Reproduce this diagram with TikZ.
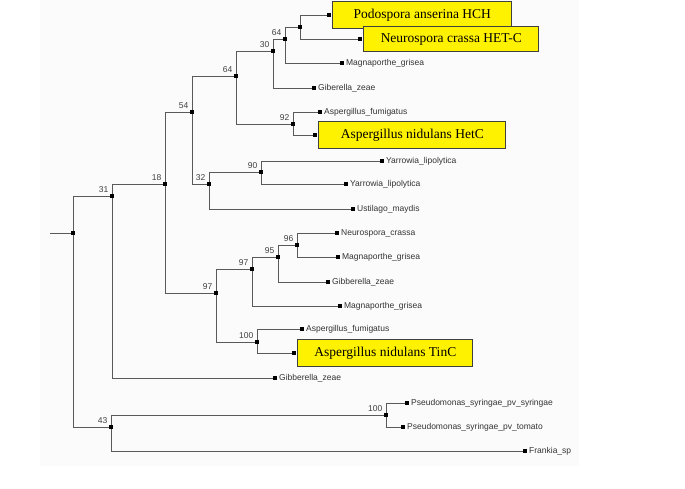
\documentclass[tikz,border=0pt]{standalone}
\usepackage{fontspec}
\setmainfont{Liberation Serif}
\newfontfamily\arialf{Liberation Sans}
\usetikzlibrary{positioning}

\tikzset{
  nd/.style={rectangle,fill=black,minimum size=4.5pt,inner sep=0pt},
  br/.style={draw=black!65,line width=0.7pt},
  bs/.style={font=\arialf\fontsize{8.5}{9}\selectfont,text=black!75,inner sep=1pt,label distance=0pt},
  lt/.style={font=\arialf\fontsize{8.5}{9}\selectfont,text=black!80,inner sep=1.5pt,label distance=0pt},
  hl/.style={rectangle,draw=black!75,line width=0.8pt,fill=yellow,inner xsep=4pt,minimum height=27pt,font=\fontsize{13.5}{15}\selectfont},
}

\begin{document}
\begin{tikzpicture}[x=1pt,y=-1pt]
      \useasboundingbox (0,0) rectangle (685,489);
      \fill[black!1.5] (40,0) rectangle (579,466);

      % inner nodes
      \node[nd] (root) at (73,233) {};
      \node[nd,label={[bs]above left:31}] (n31) at (112,196) {};
      \node[nd,label={[bs]above left:43}] (n43) at (111,427) {};
      \node[nd,label={[bs]above left:18}] (n18) at (165,184) {};
      \node[nd,label={[bs]above left:54}] (n54) at (192,112) {};
      \node[nd,label={[bs]above left:97}] (n97) at (216,293) {};
      \node[nd,label={[bs]above left:64}] (n64) at (236,76) {};
      \node[nd,label={[bs]above left:32}] (n32) at (209,184) {};
      \node[nd,label={[bs]above left:30}] (n30) at (273,51) {};
      \node[nd,label={[bs]above left:92}] (n92) at (293,124) {};
      \node[nd,label={[bs]above left:64}] (n64b) at (285,39) {};
      \node[nd] (nhc) at (300,27) {};
      \node[nd,label={[bs]above left:90}] (n90) at (261,172) {};
      \node[nd,label={[bs]above left:97}] (n97b) at (252,269) {};
      \node[nd,label={[bs]above left:95}] (n95) at (278,257) {};
      \node[nd,label={[bs]above left:96}] (n96) at (297,245) {};
      \node[nd,label={[bs]above left:100}] (n100a) at (257,342) {};
      \node[nd,label={[bs]above left:100}] (n100b) at (386,415) {};

      % leaves
      \node[nd] (pa) at (329,15) {};
      \node[hl,right=1pt of pa,minimum width=179pt] (pabox) {Podospora anserina HCH};
      \node[nd] (nc) at (360,39) {};
      \node[hl,right=1pt of nc,minimum width=175pt,minimum height=25pt] (ncbox) {Neurospora crassa HET-C};
      \node[nd,label={[lt]right:Magnaporthe\_grisea}] (mg1) at (342,63) {};
      \node[nd,label={[lt]right:Giberella\_zeae}] (gz1) at (314,88) {};
      \node[nd,label={[lt]right:Aspergillus\_fumigatus}] (af1) at (320,112) {};
      \node[nd] (an1) at (315,135) {};
      \node[hl,right=1pt of an1,minimum width=187pt] (an1box) {Aspergillus nidulans HetC};
      \node[nd,label={[lt]right:Yarrowia\_lipolytica}] (yl1) at (382,161) {};
      \node[nd,label={[lt]right:Yarrowia\_lipolytica}] (yl2) at (346,184) {};
      \node[nd,label={[lt]right:Ustilago\_maydis}] (um) at (353,209) {};
      \node[nd,label={[lt]right:Neurospora\_crassa}] (ncr) at (337,233) {};
      \node[nd,label={[lt]right:Magnaporthe\_grisea}] (mg2) at (338,257) {};
      \node[nd,label={[lt]right:Gibberella\_zeae}] (gz2) at (328,282) {};
      \node[nd,label={[lt]right:Magnaporthe\_grisea}] (mg3) at (340,306) {};
      \node[nd,label={[lt]right:Aspergillus\_fumigatus}] (af2) at (302,329) {};
      \node[nd] (an2) at (294,353) {};
      \node[hl,right=1pt of an2,minimum width=175pt] (an2box) {Aspergillus nidulans TinC};
      \node[nd,label={[lt]right:Gibberella\_zeae}] (gz3) at (275,378) {};
      \node[nd,label={[lt]right:Pseudomonas\_syringae\_pv\_syringae}] (ps1) at (407,403) {};
      \node[nd,label={[lt]right:Pseudomonas\_syringae\_pv\_tomato}] (ps2) at (403,427) {};
      \node[nd,label={[lt]right:Frankia\_sp}] (fr) at (525,451) {};
      \coordinate (stem) at (50,233);

      % branches
      \draw[br] (stem) -- (root);
      \foreach \p/\c in {root/n31,root/n43,n31/n18,n31/gz3,n43/n100b,n43/fr,
                         n100b/ps1,n100b/ps2,n18/n54,n18/n97,n54/n64,n54/n32,
                         n64/n30,n64/n92,n30/n64b,n30/gz1,n64b/nhc,n64b/mg1,
                         nhc/pa,nhc/nc,n92/af1,n92/an1,n32/n90,n32/um,
                         n90/yl1,n90/yl2,n97/n97b,n97/n100a,n97b/n95,n97b/mg3,
                         n95/n96,n95/gz2,n96/ncr,n96/mg2,n100a/af2,n100a/an2}
        \draw[br] (\p) |- (\c);
    \end{tikzpicture}
\end{document}
